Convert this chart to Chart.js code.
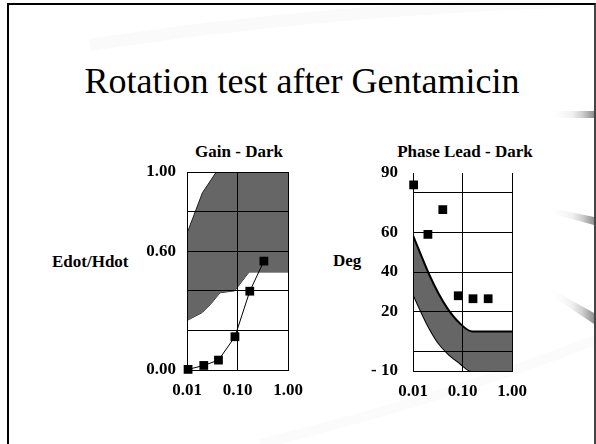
<!DOCTYPE html>
<html><head><meta charset="utf-8">
<script src="https://cdn.jsdelivr.net/npm/chart.js@4/dist/chart.umd.min.js"></script>
<style>
html,body{margin:0;padding:0;background:#fff;}
#page{position:relative;width:596px;height:444px;overflow:hidden;background:#fff;}
#deco{position:absolute;left:0;top:0;}
#frame{position:absolute;left:7px;top:3px;width:585px;height:470px;border-left:2px solid #000;border-top:2px solid #000;border-right:2px solid #444;}
#title{position:absolute;left:0;width:604px;top:63px;text-align:center;font-family:"Liberation Serif","Times New Roman",serif;font-size:36px;line-height:36px;color:#000;white-space:nowrap;}
.lab{position:absolute;font-family:"Liberation Serif","Times New Roman",serif;font-weight:bold;font-size:17px;line-height:20px;color:#000;white-space:nowrap;}
.ctr{text-align:center;width:220px;}
.box{position:absolute;}
</style></head>
<body>
<div id="page">
<svg id="deco" width="596" height="444">
  <defs>
    <linearGradient id="gb" x1="0" y1="0" x2="1" y2="0">
      <stop offset="0" stop-color="#ffffff" stop-opacity="0"/>
      <stop offset="0.55" stop-color="#f0f0f0"/>
      <stop offset="0.75" stop-color="#d0d0d0"/>
      <stop offset="1" stop-color="#909090"/>
    </linearGradient>
  </defs>
  <path d="M90,45 Q320,10 560,2" stroke="#fafafa" stroke-width="12" fill="none"/>
  <path d="M260,444 Q440,400 596,340" stroke="#fbfbfb" stroke-width="10" fill="none"/>
  <polygon points="546,111 594,111 594,118 546,118" fill="url(#gb)"/>
  <polygon points="546,207 594,217 594,225 546,212" fill="url(#gb)"/>
  <polygon points="546,286 594,313 594,324 546,292" fill="url(#gb)"/>
</svg>
<div id="frame"></div>
<div id="title">Rotation test after Gentamicin</div>
<div class="lab ctr" style="left:129px;top:142px;">Gain - Dark</div>
<div class="lab ctr" style="left:355px;top:142px;">Phase Lead - Dark</div>
<div class="lab" style="left:52px;top:252px;">Edot/Hdot</div>
<div class="lab" style="left:333px;top:251px;">Deg</div>
<div class="box" style="left:130px;top:138px;"><canvas id="c1" width="175" height="265"></canvas></div>
<div class="box" style="left:350px;top:138px;"><canvas id="c2" width="190" height="265"></canvas></div>
</div>
<script>
// ---- data ----
const freqTicks = [0.01, 0.1, 1];

const gainFreq = [0.0105, 0.0215, 0.042, 0.089, 0.175, 0.333];
const gainValue = [0.003, 0.023, 0.05, 0.168, 0.398, 0.55];
const gainNormUpperFreq = [0.01, 0.0202, 0.038, 1];
const gainNormUpperValue = [0.69, 0.895, 1.0, 1.0];
const gainNormLowerFreq = [0.01, 0.02, 0.03, 0.045, 0.088, 0.17, 1];
const gainNormLowerValue = [0.25, 0.29, 0.335, 0.39, 0.40, 0.495, 0.495];
const gainTicks = [0, 0.2, 0.4, 0.6, 0.8, 1.0];
const gainLabelled = [0, 0.6, 1.0];

const phaseFreq = [0.0103, 0.02, 0.04, 0.082, 0.163, 0.33];
const phaseValue = [84, 59, 71.5, 28, 26.5, 26.5];
const phaseNormUpperFreq = [0.01, 0.014, 0.021, 0.033, 0.05, 0.085, 0.155, 1];
const phaseNormUpperValue = [58.5, 49.5, 39, 29, 21.5, 14.5, 10, 10];
const phaseNormLowerFreq = [0.01, 0.014, 0.021, 0.033, 0.05, 0.088, 0.15, 1];
const phaseNormLowerValue = [29, 21, 12, 4, -1, -6, -10, -10];
const phaseTicks = [-10, 0, 20, 40, 60, 80, 90];
const phaseLabelled = [-10, 20, 40, 60, 90];

// ---- helpers ----
const FONT = '"Liberation Serif", "Times New Roman", serif';
const tickFont = {family: FONT, weight: 'bold', size: 17};
const pts = (xs, ys) => xs.map((x, i) => ({x: x, y: ys[i]}));

function xScale(h) {
  return {
    type: 'logarithmic', min: 0.01, max: 1,
    afterBuildTicks: s => { s.ticks = freqTicks.map(v => ({value: v})); },
    afterFit: s => { s.height = h; s.paddingLeft = 0; s.paddingRight = 0; },
    ticks: {autoSkip: false, maxRotation: 0, minRotation: 0, padding: 10, color: '#000', font: tickFont,
            callback: v => Number(v).toFixed(2)},
    grid: {color: '#000', lineWidth: 1, drawTicks: false, z: 1},
    border: {display: true, color: '#000', width: 1, z: 1}
  };
}

function yScale(min, max, ticks, labelled, fmt, w, pad, gridColor) {
  return {
    type: 'linear', min: min, max: max,
    afterBuildTicks: s => { s.ticks = ticks.map(v => ({value: v})); },
    afterFit: s => { s.width = w; s.paddingTop = 0; s.paddingBottom = 0; },
    ticks: {autoSkip: false, padding: pad, color: '#000', font: tickFont,
            callback: v => labelled.includes(v) ? fmt(v) : ''},
    grid: {color: gridColor, lineWidth: 1, drawTicks: false, z: 1},
    border: {display: true, color: '#000', width: 1, z: 1}
  };
}

const common = {
  responsive: false, animation: false, devicePixelRatio: 1,
  plugins: {legend: {display: false}, tooltip: {enabled: false}, title: {display: false}},
  elements: {point: {radius: 0}}
};

new Chart(document.getElementById('c1'), {
  type: 'line',
  data: {datasets: [
    {data: pts(gainNormUpperFreq, gainNormUpperValue), borderColor: '#222', borderWidth: 1,
     backgroundColor: '#666666', fill: '+1', pointRadius: 0, tension: 0, order: 2},
    {data: pts(gainNormLowerFreq, gainNormLowerValue), borderColor: '#222', borderWidth: 1,
     fill: false, pointRadius: 0, tension: 0, order: 2},
    {data: pts(gainFreq, gainValue), borderColor: '#000', borderWidth: 1, fill: false, tension: 0,
     pointStyle: 'rect', pointRadius: 6.2, pointBackgroundColor: '#000', pointBorderColor: '#000',
     pointBorderWidth: 0, order: 0, clip: false}
  ]},
  options: Object.assign({}, common, {
    layout: {padding: {left: 0, right: 17, top: 34, bottom: 0}},
    scales: {
      x: xScale(33),
      y: yScale(0, 1, gainTicks, gainLabelled, v => v.toFixed(2), 57, 11, '#000')
    }
  })
});

new Chart(document.getElementById('c2'), {
  type: 'line',
  data: {datasets: [
    {data: pts(phaseNormUpperFreq, phaseNormUpperValue), borderColor: '#000', borderWidth: 2,
     backgroundColor: '#666666', fill: '+1', pointRadius: 0, cubicInterpolationMode: 'monotone', order: 2},
    {data: pts(phaseNormLowerFreq, phaseNormLowerValue), borderColor: '#000', borderWidth: 2,
     fill: false, pointRadius: 0, cubicInterpolationMode: 'monotone', order: 2},
    {data: pts(phaseFreq, phaseValue), showLine: false, fill: false,
     pointStyle: 'rect', pointRadius: 6.2, pointBackgroundColor: '#000', pointBorderColor: '#000',
     pointBorderWidth: 0, order: 0, clip: false}
  ]},
  options: Object.assign({}, common, {
    layout: {padding: {left: 0, right: 28, top: 35, bottom: 0}},
    scales: {
      x: xScale(32),
      y: yScale(-10, 90, phaseTicks, phaseLabelled, v => v < 0 ? '- ' + Math.abs(v) : String(v), 63, 15,
                ctx => (ctx.tick && ctx.tick.value === 90) ? 'rgba(0,0,0,0)' : '#000')
    }
  })
});
</script>
</body></html>
